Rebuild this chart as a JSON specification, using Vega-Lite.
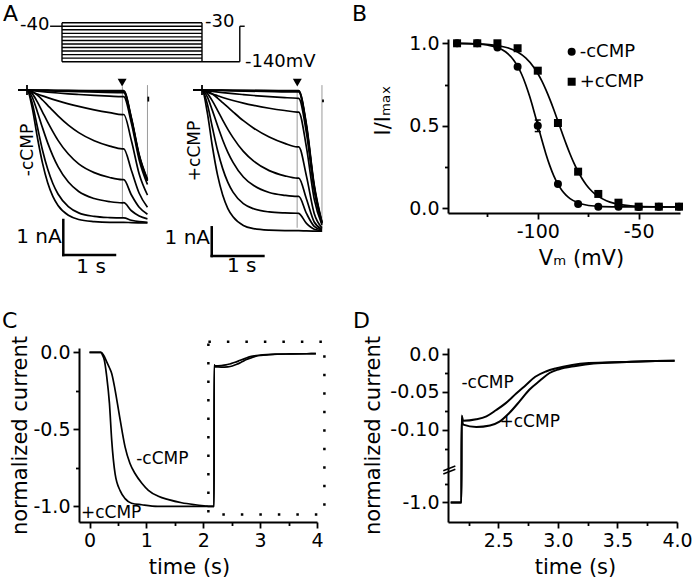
{
"$schema": "https://vega.github.io/schema/vega-lite/v6.json",
"padding": {"left": 2, "top": 2, "right": 0, "bottom": 0},
"background": "white",
"config": {
  "font": "DejaVu Sans",
  "view": {"stroke": null},
  "axis": {"domainColor": "black", "domainWidth": 2, "tickColor": "black", "tickWidth": 1.8, "labelColor": "black", "labelFontSize": 19, "labelFont": "DejaVu Sans", "titleFont": "DejaVu Sans", "titleFontSize": 21, "titleFontWeight": "normal", "titleColor": "black", "grid": false, "labelPadding": 3, "titlePadding": 6, "labelOverlap": false, "labelFlush": false},
  "text": {"font": "DejaVu Sans", "color": "black"}
},
"datasets": {
  "protoSeg": [
    {"t0": -0.17, "t1": 0, "v0": -40, "v1": -40},
    {"t0": 0, "t1": 2, "v0": -30, "v1": -30},
    {"t0": 0, "t1": 2, "v0": -40, "v1": -40},
    {"t0": 0, "t1": 2, "v0": -50, "v1": -50},
    {"t0": 0, "t1": 2, "v0": -60, "v1": -60},
    {"t0": 0, "t1": 2, "v0": -70, "v1": -70},
    {"t0": 0, "t1": 2, "v0": -80, "v1": -80},
    {"t0": 0, "t1": 2, "v0": -90, "v1": -90},
    {"t0": 0, "t1": 2, "v0": -100, "v1": -100},
    {"t0": 0, "t1": 2, "v0": -110, "v1": -110},
    {"t0": 0, "t1": 2, "v0": -120, "v1": -120},
    {"t0": 0, "t1": 2, "v0": -130, "v1": -130},
    {"t0": 0, "t1": 2, "v0": -140, "v1": -140},
    {"t0": 0, "t1": 0, "v0": -30, "v1": -140},
    {"t0": 2, "t1": 2, "v0": -30, "v1": -140},
    {"t0": 2, "t1": 2.54, "v0": -140, "v1": -140},
    {"t0": 2.54, "t1": 2.54, "v0": -140, "v1": -40},
    {"t0": 2.54, "t1": 2.61, "v0": -40, "v1": -40}
  ],
  "protoTxt": [
    {"t": -0.6, "v": -36.5, "label": "-40"},
    {"t": 2.043, "v": -29.4, "label": "-30"},
    {"t": 2.614, "v": -140, "label": "-140mV"}
  ],
  "letA": [{"t": -0.843, "v": -23.8, "label": "A"}],
  "letB": [{"V": -192.1, "r": 1.138, "label": "B"}],
  "letC": [{"t": -1.538, "v": 0.155, "label": "C"}],
  "letD": [{"t": 1.28, "v": 0.0336, "label": "D"}],
  "tl": [
    {"k":"L1","t":-0.17,"I":0},{"k":"L1","t":0,"I":0},{"k":"L1","t":0.6,"I":-0.008},{"k":"L1","t":1.2,"I":-0.015},{"k":"L1","t":1.84,"I":-0.02},{"k":"L1","t":1.87,"I":-0.02},{"k":"L1","t":2.02,"I":-0.8},{"k":"L1","t":2.17,"I":-1.85},{"k":"L1","t":2.33,"I":-2.55},
    {"k":"L2","t":-0.17,"I":0},{"k":"L2","t":0,"I":0},{"k":"L2","t":0.6,"I":-0.015},{"k":"L2","t":1.2,"I":-0.03},{"k":"L2","t":1.84,"I":-0.04},{"k":"L2","t":1.87,"I":-0.04},{"k":"L2","t":2.02,"I":-0.82},{"k":"L2","t":2.17,"I":-1.87},{"k":"L2","t":2.33,"I":-2.57},
    {"k":"L3","t":-0.17,"I":0},{"k":"L3","t":0,"I":0},{"k":"L3","t":0.6,"I":-0.03},{"k":"L3","t":1.2,"I":-0.055},{"k":"L3","t":1.84,"I":-0.075},{"k":"L3","t":1.87,"I":-0.075},{"k":"L3","t":2.02,"I":-0.85},{"k":"L3","t":2.17,"I":-1.9},{"k":"L3","t":2.33,"I":-2.6},
    {"k":"L4","t":-0.17,"I":0},{"k":"L4","t":0,"I":0},{"k":"L4","t":0.1,"I":-0.016},{"k":"L4","t":0.2,"I":-0.032},{"k":"L4","t":0.4,"I":-0.06},{"k":"L4","t":0.6,"I":-0.085},{"k":"L4","t":0.8,"I":-0.108},{"k":"L4","t":1.0,"I":-0.128},{"k":"L4","t":1.3,"I":-0.154},{"k":"L4","t":1.6,"I":-0.177},{"k":"L4","t":1.84,"I":-0.192},{"k":"L4","t":1.87,"I":-0.19},{"k":"L4","t":2.02,"I":-0.95},{"k":"L4","t":2.17,"I":-2.0},{"k":"L4","t":2.33,"I":-2.7},
    {"k":"L5","t":-0.17,"I":0},{"k":"L5","t":0,"I":0},{"k":"L5","t":0.1,"I":-0.06},{"k":"L5","t":0.2,"I":-0.116},{"k":"L5","t":0.3,"I":-0.169},{"k":"L5","t":0.4,"I":-0.219},{"k":"L5","t":0.6,"I":-0.312},{"k":"L5","t":0.8,"I":-0.395},{"k":"L5","t":1.0,"I":-0.469},{"k":"L5","t":1.3,"I":-0.566},{"k":"L5","t":1.6,"I":-0.648},{"k":"L5","t":1.84,"I":-0.704},{"k":"L5","t":1.87,"I":-0.7},{"k":"L5","t":2.02,"I":-1.45},{"k":"L5","t":2.17,"I":-2.4},{"k":"L5","t":2.33,"I":-3.0},
    {"k":"L6","t":-0.17,"I":0},{"k":"L6","t":0,"I":0},{"k":"L6","t":0.1,"I":-0.044},{"k":"L6","t":0.2,"I":-0.149},{"k":"L6","t":0.3,"I":-0.286},{"k":"L6","t":0.4,"I":-0.438},{"k":"L6","t":0.5,"I":-0.591},{"k":"L6","t":0.6,"I":-0.739},{"k":"L6","t":0.8,"I":-1.003},{"k":"L6","t":1.0,"I":-1.217},{"k":"L6","t":1.3,"I":-1.45},{"k":"L6","t":1.6,"I":-1.602},{"k":"L6","t":1.84,"I":-1.68},{"k":"L6","t":1.87,"I":-1.68},{"k":"L6","t":2.02,"I":-2.3},{"k":"L6","t":2.17,"I":-2.95},{"k":"L6","t":2.33,"I":-3.35},
    {"k":"L7","t":-0.17,"I":0},{"k":"L7","t":0,"I":0},{"k":"L7","t":0.1,"I":-0.105},{"k":"L7","t":0.2,"I":-0.34},{"k":"L7","t":0.3,"I":-0.63},{"k":"L7","t":0.4,"I":-0.92},{"k":"L7","t":0.5,"I":-1.19},{"k":"L7","t":0.6,"I":-1.44},{"k":"L7","t":0.8,"I":-1.83},{"k":"L7","t":1.0,"I":-2.11},{"k":"L7","t":1.3,"I":-2.36},{"k":"L7","t":1.6,"I":-2.5},{"k":"L7","t":1.84,"I":-2.56},{"k":"L7","t":1.87,"I":-2.56},{"k":"L7","t":2.02,"I":-3.0},{"k":"L7","t":2.17,"I":-3.35},{"k":"L7","t":2.33,"I":-3.55},
    {"k":"L8","t":-0.17,"I":0},{"k":"L8","t":0,"I":0},{"k":"L8","t":0.1,"I":-0.2},{"k":"L8","t":0.2,"I":-0.62},{"k":"L8","t":0.3,"I":-1.08},{"k":"L8","t":0.4,"I":-1.51},{"k":"L8","t":0.5,"I":-1.88},{"k":"L8","t":0.6,"I":-2.19},{"k":"L8","t":0.8,"I":-2.63},{"k":"L8","t":1.0,"I":-2.9},{"k":"L8","t":1.3,"I":-3.1},{"k":"L8","t":1.6,"I":-3.19},{"k":"L8","t":1.84,"I":-3.225},{"k":"L8","t":1.87,"I":-3.22},{"k":"L8","t":2.02,"I":-3.45},{"k":"L8","t":2.17,"I":-3.6},{"k":"L8","t":2.33,"I":-3.68},
    {"k":"L9","t":-0.17,"I":0},{"k":"L9","t":0,"I":0},{"k":"L9","t":0.1,"I":-0.37},{"k":"L9","t":0.2,"I":-1.05},{"k":"L9","t":0.3,"I":-1.72},{"k":"L9","t":0.4,"I":-2.26},{"k":"L9","t":0.5,"I":-2.67},{"k":"L9","t":0.6,"I":-2.97},{"k":"L9","t":0.8,"I":-3.33},{"k":"L9","t":1.0,"I":-3.51},{"k":"L9","t":1.3,"I":-3.61},{"k":"L9","t":1.6,"I":-3.645},{"k":"L9","t":1.84,"I":-3.655},{"k":"L9","t":1.87,"I":-3.655},{"k":"L9","t":2.02,"I":-3.72},{"k":"L9","t":2.17,"I":-3.76},{"k":"L9","t":2.33,"I":-3.78},
    {"k":"L10","t":-0.17,"I":0},{"k":"L10","t":0,"I":0},{"k":"L10","t":0.1,"I":-0.5},{"k":"L10","t":0.2,"I":-1.35},{"k":"L10","t":0.3,"I":-2.09},{"k":"L10","t":0.4,"I":-2.65},{"k":"L10","t":0.5,"I":-3.04},{"k":"L10","t":0.6,"I":-3.3},{"k":"L10","t":0.8,"I":-3.58},{"k":"L10","t":1.0,"I":-3.7},{"k":"L10","t":1.3,"I":-3.76},{"k":"L10","t":1.6,"I":-3.78},{"k":"L10","t":1.84,"I":-3.78},{"k":"L10","t":1.87,"I":-3.78},{"k":"L10","t":2.02,"I":-3.79},{"k":"L10","t":2.33,"I":-3.8}
  ],
  "tr": [
    {"k":"R1","t":-0.17,"I":0},{"k":"R1","t":0,"I":0},{"k":"R1","t":0.6,"I":-0.008},{"k":"R1","t":1.2,"I":-0.015},{"k":"R1","t":1.84,"I":-0.02},{"k":"R1","t":1.87,"I":-0.02},{"k":"R1","t":2.02,"I":-1.2},{"k":"R1","t":2.17,"I":-3.3},{"k":"R1","t":2.32,"I":-4.6},
    {"k":"R2","t":-0.17,"I":0},{"k":"R2","t":0,"I":0},{"k":"R2","t":0.6,"I":-0.015},{"k":"R2","t":1.2,"I":-0.03},{"k":"R2","t":1.84,"I":-0.04},{"k":"R2","t":1.87,"I":-0.04},{"k":"R2","t":2.02,"I":-1.25},{"k":"R2","t":2.17,"I":-3.35},{"k":"R2","t":2.32,"I":-4.62},
    {"k":"R3","t":-0.17,"I":0},{"k":"R3","t":0,"I":0},{"k":"R3","t":0.6,"I":-0.03},{"k":"R3","t":1.2,"I":-0.05},{"k":"R3","t":1.84,"I":-0.07},{"k":"R3","t":1.87,"I":-0.07},{"k":"R3","t":2.02,"I":-1.3},{"k":"R3","t":2.17,"I":-3.4},{"k":"R3","t":2.32,"I":-4.64},
    {"k":"R4","t":-0.17,"I":0},{"k":"R4","t":0,"I":0},{"k":"R4","t":0.1,"I":-0.024},{"k":"R4","t":0.2,"I":-0.047},{"k":"R4","t":0.4,"I":-0.09},{"k":"R4","t":0.6,"I":-0.128},{"k":"R4","t":0.8,"I":-0.161},{"k":"R4","t":1.0,"I":-0.192},{"k":"R4","t":1.3,"I":-0.231},{"k":"R4","t":1.6,"I":-0.265},{"k":"R4","t":1.84,"I":-0.288},{"k":"R4","t":1.87,"I":-0.29},{"k":"R4","t":2.02,"I":-1.5},{"k":"R4","t":2.17,"I":-3.5},{"k":"R4","t":2.32,"I":-4.65},
    {"k":"R5","t":-0.17,"I":0},{"k":"R5","t":0,"I":0},{"k":"R5","t":0.1,"I":-0.072},{"k":"R5","t":0.2,"I":-0.14},{"k":"R5","t":0.3,"I":-0.2},{"k":"R5","t":0.4,"I":-0.26},{"k":"R5","t":0.6,"I":-0.366},{"k":"R5","t":0.8,"I":-0.457},{"k":"R5","t":1.0,"I":-0.536},{"k":"R5","t":1.3,"I":-0.635},{"k":"R5","t":1.6,"I":-0.715},{"k":"R5","t":1.84,"I":-0.768},{"k":"R5","t":1.87,"I":-0.77},{"k":"R5","t":2.02,"I":-2.0},{"k":"R5","t":2.17,"I":-3.8},{"k":"R5","t":2.32,"I":-4.7},
    {"k":"R6","t":-0.17,"I":0},{"k":"R6","t":0,"I":0},{"k":"R6","t":0.1,"I":-0.04},{"k":"R6","t":0.2,"I":-0.14},{"k":"R6","t":0.3,"I":-0.28},{"k":"R6","t":0.4,"I":-0.44},{"k":"R6","t":0.5,"I":-0.6},{"k":"R6","t":0.6,"I":-0.76},{"k":"R6","t":0.8,"I":-1.07},{"k":"R6","t":1.0,"I":-1.33},{"k":"R6","t":1.3,"I":-1.64},{"k":"R6","t":1.6,"I":-1.86},{"k":"R6","t":1.84,"I":-1.98},{"k":"R6","t":1.87,"I":-1.98},{"k":"R6","t":2.02,"I":-3.0},{"k":"R6","t":2.17,"I":-4.3},{"k":"R6","t":2.32,"I":-4.8},
    {"k":"R7","t":-0.17,"I":0},{"k":"R7","t":0,"I":0},{"k":"R7","t":0.1,"I":-0.12},{"k":"R7","t":0.2,"I":-0.38},{"k":"R7","t":0.3,"I":-0.71},{"k":"R7","t":0.4,"I":-1.05},{"k":"R7","t":0.5,"I":-1.37},{"k":"R7","t":0.6,"I":-1.66},{"k":"R7","t":0.8,"I":-2.14},{"k":"R7","t":1.0,"I":-2.48},{"k":"R7","t":1.3,"I":-2.81},{"k":"R7","t":1.6,"I":-2.99},{"k":"R7","t":1.84,"I":-3.07},{"k":"R7","t":1.87,"I":-3.07},{"k":"R7","t":2.02,"I":-3.8},{"k":"R7","t":2.17,"I":-4.6},{"k":"R7","t":2.32,"I":-4.85},
    {"k":"R8","t":-0.17,"I":0},{"k":"R8","t":0,"I":0},{"k":"R8","t":0.1,"I":-0.23},{"k":"R8","t":0.2,"I":-0.71},{"k":"R8","t":0.3,"I":-1.24},{"k":"R8","t":0.4,"I":-1.74},{"k":"R8","t":0.5,"I":-2.17},{"k":"R8","t":0.6,"I":-2.52},{"k":"R8","t":0.8,"I":-3.03},{"k":"R8","t":1.0,"I":-3.33},{"k":"R8","t":1.3,"I":-3.57},{"k":"R8","t":1.6,"I":-3.67},{"k":"R8","t":1.84,"I":-3.71},{"k":"R8","t":1.87,"I":-3.71},{"k":"R8","t":2.02,"I":-4.3},{"k":"R8","t":2.17,"I":-4.75},{"k":"R8","t":2.32,"I":-4.88},
    {"k":"R9","t":-0.17,"I":0},{"k":"R9","t":0,"I":0},{"k":"R9","t":0.1,"I":-0.47},{"k":"R9","t":0.2,"I":-1.3},{"k":"R9","t":0.3,"I":-2.1},{"k":"R9","t":0.4,"I":-2.74},{"k":"R9","t":0.5,"I":-3.22},{"k":"R9","t":0.6,"I":-3.56},{"k":"R9","t":0.8,"I":-3.96},{"k":"R9","t":1.0,"I":-4.14},{"k":"R9","t":1.3,"I":-4.25},{"k":"R9","t":1.6,"I":-4.285},{"k":"R9","t":1.84,"I":-4.295},{"k":"R9","t":1.87,"I":-4.3},{"k":"R9","t":2.02,"I":-4.65},{"k":"R9","t":2.17,"I":-4.85},{"k":"R9","t":2.32,"I":-4.9},
    {"k":"R10","t":-0.17,"I":0},{"k":"R10","t":0,"I":0},{"k":"R10","t":0.1,"I":-0.76},{"k":"R10","t":0.2,"I":-1.96},{"k":"R10","t":0.3,"I":-2.96},{"k":"R10","t":0.4,"I":-3.66},{"k":"R10","t":0.5,"I":-4.13},{"k":"R10","t":0.6,"I":-4.42},{"k":"R10","t":0.8,"I":-4.72},{"k":"R10","t":1.0,"I":-4.83},{"k":"R10","t":1.3,"I":-4.885},{"k":"R10","t":1.6,"I":-4.9},{"k":"R10","t":1.84,"I":-4.9},{"k":"R10","t":1.87,"I":-4.9},{"k":"R10","t":2.02,"I":-4.91},{"k":"R10","t":2.32,"I":-4.92}
  ],
  "grayL": [{"t": 1.845, "I": 0.1, "I2": -3.63}, {"t": 2.33, "I": 0.14, "I2": -2.57}],
  "grayR": [{"t": 1.84, "I": 0.0, "I2": -4.8}, {"t": 2.32, "I": 0.17, "I2": -4.95}],
  "barsL": [{"t": 0.702, "t2": 1.702, "I": -4.714, "I2": -4.714}, {"t": 0.702, "t2": 0.702, "I": -4.714, "I2": -3.714}],
  "barsR": [{"t": 0.188, "t2": 1.188, "I": -5.784, "I2": -5.784}, {"t": 0.188, "t2": 0.188, "I": -5.784, "I2": -4.784}],
  "tickL": [{"t": 0, "t2": 0, "I": 0.14, "I2": -0.14}, {"t": 2.346, "t2": 2.346, "I": -0.19, "I2": -0.33}],
  "tickR": [{"t": 0, "t2": 0, "I": 0.17, "I2": -0.17}, {"t": 2.34, "t2": 2.34, "I": -0.33, "I2": -0.43}],
  "arrowL": [{"t": 1.84, "I": 0.214}],
  "arrowR": [{"t": 1.843, "I": 0.26}],
  "nAL": [{"t": 0.671, "I": -4.2, "label": "1 nA"}],
  "sL": [{"t": 1.24, "I": -5.06, "label": "1 s"}],
  "rotL": [{"t": 0.01, "I": -1.714, "label": "-cCMP"}],
  "nAR": [{"t": 0.155, "I": -5.14, "label": "1 nA"}],
  "sR": [{"t": 0.768, "I": -6.13, "label": "1 s"}],
  "rotR": [{"t": -0.135, "I": -2.125, "label": "+cCMP"}],
  "bp": [
    {"c":"-cCMP","V":-140,"r":1.0},{"c":"-cCMP","V":-130,"r":1.0},{"c":"-cCMP","V":-120,"r":0.975},{"c":"-cCMP","V":-110,"r":0.858},{"c":"-cCMP","V":-100,"r":0.5},{"c":"-cCMP","V":-90,"r":0.147},{"c":"-cCMP","V":-80,"r":0.026},{"c":"-cCMP","V":-70,"r":0.01},{"c":"-cCMP","V":-60,"r":0.01},{"c":"-cCMP","V":-50,"r":0.008},{"c":"-cCMP","V":-40,"r":0.01},{"c":"-cCMP","V":-30,"r":0.01},
    {"c":"+cCMP","V":-140,"r":1.0},{"c":"+cCMP","V":-130,"r":1.0},{"c":"+cCMP","V":-120,"r":1.0},{"c":"+cCMP","V":-110,"r":0.97},{"c":"+cCMP","V":-100,"r":0.834},{"c":"+cCMP","V":-90,"r":0.517},{"c":"+cCMP","V":-80,"r":0.222},{"c":"+cCMP","V":-70,"r":0.087},{"c":"+cCMP","V":-60,"r":0.034},{"c":"+cCMP","V":-50,"r":0.01},{"c":"+cCMP","V":-40,"r":0.01},{"c":"+cCMP","V":-30,"r":0.01}
  ],
  "bleg": [{"c": "-cCMP", "V": -83.2, "r": 0.949}, {"c": "+cCMP", "V": -83.2, "r": 0.767}],
  "bf": [
    {"c":"-cCMP","V":-140,"r":0.9993},{"c":"-cCMP","V":-130,"r":0.9957},{"c":"-cCMP","V":-125,"r":0.9895},{"c":"-cCMP","V":-120,"r":0.9745},{"c":"-cCMP","V":-116,"r":0.9487},{"c":"-cCMP","V":-112,"r":0.8994},{"c":"-cCMP","V":-110,"r":0.8615},{"c":"-cCMP","V":-108,"r":0.8122},{"c":"-cCMP","V":-106,"r":0.7506},{"c":"-cCMP","V":-104,"r":0.6768},{"c":"-cCMP","V":-102,"r":0.5932},{"c":"-cCMP","V":-100,"r":0.504},{"c":"-cCMP","V":-98,"r":0.415},{"c":"-cCMP","V":-96,"r":0.331},{"c":"-cCMP","V":-94,"r":0.257},{"c":"-cCMP","V":-92,"r":0.195},{"c":"-cCMP","V":-90,"r":0.146},{"c":"-cCMP","V":-88,"r":0.108},{"c":"-cCMP","V":-86,"r":0.08},{"c":"-cCMP","V":-84,"r":0.059},{"c":"-cCMP","V":-80,"r":0.034},{"c":"-cCMP","V":-76,"r":0.02},{"c":"-cCMP","V":-70,"r":0.012},{"c":"-cCMP","V":-60,"r":0.0087},{"c":"-cCMP","V":-50,"r":0.008},{"c":"-cCMP","V":-30,"r":0.008},
    {"c":"+cCMP","V":-140,"r":0.9991},{"c":"+cCMP","V":-130,"r":0.9965},{"c":"+cCMP","V":-120,"r":0.9862},{"c":"+cCMP","V":-115,"r":0.9728},{"c":"+cCMP","V":-110,"r":0.947},{"c":"+cCMP","V":-106,"r":0.9112},{"c":"+cCMP","V":-102,"r":0.855},{"c":"+cCMP","V":-100,"r":0.817},{"c":"+cCMP","V":-98,"r":0.772},{"c":"+cCMP","V":-96,"r":0.719},{"c":"+cCMP","V":-94,"r":0.66},{"c":"+cCMP","V":-92,"r":0.596},{"c":"+cCMP","V":-90,"r":0.528},{"c":"+cCMP","V":-88,"r":0.459},{"c":"+cCMP","V":-86,"r":0.392},{"c":"+cCMP","V":-84,"r":0.329},{"c":"+cCMP","V":-82,"r":0.272},{"c":"+cCMP","V":-80,"r":0.222},{"c":"+cCMP","V":-78,"r":0.179},{"c":"+cCMP","V":-76,"r":0.143},{"c":"+cCMP","V":-74,"r":0.114},{"c":"+cCMP","V":-72,"r":0.09},{"c":"+cCMP","V":-70,"r":0.072},{"c":"+cCMP","V":-66,"r":0.046},{"c":"+cCMP","V":-62,"r":0.03},{"c":"+cCMP","V":-58,"r":0.021},{"c":"+cCMP","V":-54,"r":0.015},{"c":"+cCMP","V":-50,"r":0.012},{"c":"+cCMP","V":-40,"r":0.009},{"c":"+cCMP","V":-30,"r":0.008}
  ],
  "be": [
    {"V": -100, "V2": -100, "r": 0.465, "r2": 0.535},
    {"V": -101.5, "V2": -98.5, "r": 0.465, "r2": 0.465},
    {"V": -101.5, "V2": -98.5, "r": 0.535, "r2": 0.535}
  ],
  "cc": [
    {"c":"-cCMP","t":0,"v":0},{"c":"-cCMP","t":0.2,"v":0},{"c":"-cCMP","t":0.25,"v":-0.02},{"c":"-cCMP","t":0.3,"v":-0.06},{"c":"-cCMP","t":0.35,"v":-0.1},{"c":"-cCMP","t":0.39,"v":-0.137},{"c":"-cCMP","t":0.45,"v":-0.245},{"c":"-cCMP","t":0.51,"v":-0.375},{"c":"-cCMP","t":0.57,"v":-0.506},{"c":"-cCMP","t":0.625,"v":-0.614},{"c":"-cCMP","t":0.71,"v":-0.72},{"c":"-cCMP","t":0.8,"v":-0.787},{"c":"-cCMP","t":0.92,"v":-0.85},{"c":"-cCMP","t":1.035,"v":-0.896},{"c":"-cCMP","t":1.21,"v":-0.935},{"c":"-cCMP","t":1.39,"v":-0.957},{"c":"-cCMP","t":1.62,"v":-0.977},{"c":"-cCMP","t":1.86,"v":-0.99},{"c":"-cCMP","t":2.05,"v":-0.998},{"c":"-cCMP","t":2.1,"v":-1.0},{"c":"-cCMP","t":2.15,"v":-1.0},{"c":"-cCMP","t":2.19,"v":-1.0},{"c":"-cCMP","t":2.192,"v":-0.081},{"c":"-cCMP","t":2.205,"v":-0.088},{"c":"-cCMP","t":2.315,"v":-0.086},{"c":"-cCMP","t":2.4,"v":-0.082},{"c":"-cCMP","t":2.48,"v":-0.074},{"c":"-cCMP","t":2.56,"v":-0.065},{"c":"-cCMP","t":2.65,"v":-0.052},{"c":"-cCMP","t":2.73,"v":-0.041},{"c":"-cCMP","t":2.81,"v":-0.03},{"c":"-cCMP","t":2.9,"v":-0.023},{"c":"-cCMP","t":2.98,"v":-0.019},{"c":"-cCMP","t":3.12,"v":-0.0144},{"c":"-cCMP","t":3.26,"v":-0.012},{"c":"-cCMP","t":3.54,"v":-0.0105},{"c":"-cCMP","t":3.82,"v":-0.0092},{"c":"-cCMP","t":3.98,"v":-0.009},
    {"c":"+cCMP","t":0,"v":0},{"c":"+cCMP","t":0.2,"v":0},{"c":"+cCMP","t":0.23,"v":-0.02},{"c":"+cCMP","t":0.26,"v":-0.05},{"c":"+cCMP","t":0.3,"v":-0.15},{"c":"+cCMP","t":0.35,"v":-0.33},{"c":"+cCMP","t":0.39,"v":-0.57},{"c":"+cCMP","t":0.45,"v":-0.79},{"c":"+cCMP","t":0.54,"v":-0.9},{"c":"+cCMP","t":0.625,"v":-0.95},{"c":"+cCMP","t":0.74,"v":-0.98},{"c":"+cCMP","t":0.92,"v":-0.99},{"c":"+cCMP","t":1.2,"v":-1.0},{"c":"+cCMP","t":1.8,"v":-1.0},{"c":"+cCMP","t":2.1,"v":-1.0},{"c":"+cCMP","t":2.19,"v":-1.0},{"c":"+cCMP","t":2.192,"v":-0.085},{"c":"+cCMP","t":2.205,"v":-0.093},{"c":"+cCMP","t":2.315,"v":-0.096},{"c":"+cCMP","t":2.43,"v":-0.094},{"c":"+cCMP","t":2.51,"v":-0.089},{"c":"+cCMP","t":2.59,"v":-0.078},{"c":"+cCMP","t":2.68,"v":-0.062},{"c":"+cCMP","t":2.76,"v":-0.047},{"c":"+cCMP","t":2.85,"v":-0.035},{"c":"+cCMP","t":2.93,"v":-0.025},{"c":"+cCMP","t":3.01,"v":-0.02},{"c":"+cCMP","t":3.15,"v":-0.0157},{"c":"+cCMP","t":3.3,"v":-0.0125},{"c":"+cCMP","t":3.54,"v":-0.0107},{"c":"+cCMP","t":3.82,"v":-0.0093},{"c":"+cCMP","t":3.98,"v":-0.009}
  ],
  "box": [{"t": 2.09, "t2": 4.13, "v": 0.069, "v2": -1.054}],
  "ctext": [{"t": 0.82, "v": -0.69, "label": "-cCMP"}, {"t": -0.15, "v": -1.042, "label": "+cCMP"}],
  "dtext": [{"t": 2.19, "v": -0.0388, "label": "-cCMP"}, {"t": 2.51, "v": -0.0895, "label": "+cCMP"}],
  "brk": [{"t": 2.038, "t2": 2.139, "v": -0.9155, "v2": -0.1474}, {"t": 2.038, "t2": 2.139, "v": -0.9243, "v2": -0.1517}]
},
"columns": 2,
"spacing": {"row": 135, "column": 131},
"bounds": "flush",
"align": "all",
"concat": [
  {
    "width": 238, "height": 174,
    "resolve": {"scale": {"x": "independent", "y": "independent"}},
    "layer": [
      {"layer": [
        {"data": {"name": "protoSeg"}, "mark": {"type": "rule", "color": "black", "strokeWidth": 1.4},
         "encoding": {"x": {"field": "t0", "type": "quantitative", "scale": {"domain": [0.2429, 3.643]}, "axis": null}, "x2": {"field": "t1"},
                      "y": {"field": "v0", "type": "quantitative", "scale": {"domain": [-566.8, -75.98]}, "axis": null}, "y2": {"field": "v1"}}},
        {"data": {"name": "protoTxt"}, "mark": {"type": "text", "align": "left", "baseline": "middle", "fontSize": 18},
         "encoding": {"x": {"field": "t", "type": "quantitative", "scale": {"domain": [0.2429, 3.643]}, "axis": null},
                      "y": {"field": "v", "type": "quantitative", "scale": {"domain": [-566.8, -75.98]}, "axis": null}, "text": {"field": "label"}}},
        {"data": {"name": "letA"}, "mark": {"type": "text", "align": "left", "baseline": "alphabetic", "fontSize": 22},
         "encoding": {"x": {"field": "t", "type": "quantitative", "scale": {"domain": [0.2429, 3.643]}, "axis": null},
                      "y": {"field": "v", "type": "quantitative", "scale": {"domain": [-566.8, -75.98]}, "axis": null}, "text": {"field": "label"}}}
      ]},
      {"layer": [
        {"data": {"name": "grayL"}, "mark": {"type": "rule", "color": "#9a9a9a", "strokeWidth": 1},
         "encoding": {"x": {"field": "t", "type": "quantitative", "scale": {"domain": [1.0058, 5.6093]}, "axis": null},
                      "y": {"field": "I", "type": "quantitative", "scale": {"domain": [-3.514, 1.457]}, "axis": null}, "y2": {"field": "I2"}}},
        {"data": {"name": "tl"}, "mark": {"type": "line", "color": "black", "strokeWidth": 1.7, "interpolate": "monotone"},
         "encoding": {"x": {"field": "t", "type": "quantitative", "scale": {"domain": [1.0058, 5.6093]}, "axis": null},
                      "y": {"field": "I", "type": "quantitative", "scale": {"domain": [-3.514, 1.457]}, "axis": null}, "detail": {"field": "k"}}},
        {"data": {"name": "barsL"}, "mark": {"type": "rule", "color": "black", "strokeWidth": 2.5, "strokeCap": "square"},
         "encoding": {"x": {"field": "t", "type": "quantitative", "scale": {"domain": [1.0058, 5.6093]}, "axis": null}, "x2": {"field": "t2"},
                      "y": {"field": "I", "type": "quantitative", "scale": {"domain": [-3.514, 1.457]}, "axis": null}, "y2": {"field": "I2"}}},
        {"data": {"name": "tickL"}, "mark": {"type": "rule", "color": "black", "strokeWidth": 1.8},
         "encoding": {"x": {"field": "t", "type": "quantitative", "scale": {"domain": [1.0058, 5.6093]}, "axis": null}, "x2": {"field": "t2"},
                      "y": {"field": "I", "type": "quantitative", "scale": {"domain": [-3.514, 1.457]}, "axis": null}, "y2": {"field": "I2"}}},
        {"data": {"name": "arrowL"}, "mark": {"type": "point", "shape": "triangle-down", "filled": true, "color": "black", "size": 80, "opacity": 1},
         "encoding": {"x": {"field": "t", "type": "quantitative", "scale": {"domain": [1.0058, 5.6093]}, "axis": null},
                      "y": {"field": "I", "type": "quantitative", "scale": {"domain": [-3.514, 1.457]}, "axis": null}}},
        {"data": {"name": "nAL"}, "mark": {"type": "text", "align": "right", "baseline": "middle", "fontSize": 20},
         "encoding": {"x": {"field": "t", "type": "quantitative", "scale": {"domain": [1.0058, 5.6093]}, "axis": null},
                      "y": {"field": "I", "type": "quantitative", "scale": {"domain": [-3.514, 1.457]}, "axis": null}, "text": {"field": "label"}}},
        {"data": {"name": "sL"}, "mark": {"type": "text", "align": "center", "baseline": "middle", "fontSize": 20},
         "encoding": {"x": {"field": "t", "type": "quantitative", "scale": {"domain": [1.0058, 5.6093]}, "axis": null},
                      "y": {"field": "I", "type": "quantitative", "scale": {"domain": [-3.514, 1.457]}, "axis": null}, "text": {"field": "label"}}},
        {"data": {"name": "rotL"}, "mark": {"type": "text", "align": "center", "baseline": "middle", "fontSize": 17, "angle": 270},
         "encoding": {"x": {"field": "t", "type": "quantitative", "scale": {"domain": [1.0058, 5.6093]}, "axis": null},
                      "y": {"field": "I", "type": "quantitative", "scale": {"domain": [-3.514, 1.457]}, "axis": null}, "text": {"field": "label"}}}
      ]},
      {"layer": [
        {"data": {"name": "grayR"}, "mark": {"type": "rule", "color": "#9a9a9a", "strokeWidth": 1},
         "encoding": {"x": {"field": "t", "type": "quantitative", "scale": {"domain": [-2.379, 2.224]}, "axis": null},
                      "y": {"field": "I", "type": "quantitative", "scale": {"domain": [-4.286, 1.777]}, "axis": null}, "y2": {"field": "I2"}}},
        {"data": {"name": "tr"}, "mark": {"type": "line", "color": "black", "strokeWidth": 1.7, "interpolate": "monotone"},
         "encoding": {"x": {"field": "t", "type": "quantitative", "scale": {"domain": [-2.379, 2.224]}, "axis": null},
                      "y": {"field": "I", "type": "quantitative", "scale": {"domain": [-4.286, 1.777]}, "axis": null}, "detail": {"field": "k"}}},
        {"data": {"name": "barsR"}, "mark": {"type": "rule", "color": "black", "strokeWidth": 2.5, "strokeCap": "square"},
         "encoding": {"x": {"field": "t", "type": "quantitative", "scale": {"domain": [-2.379, 2.224]}, "axis": null}, "x2": {"field": "t2"},
                      "y": {"field": "I", "type": "quantitative", "scale": {"domain": [-4.286, 1.777]}, "axis": null}, "y2": {"field": "I2"}}},
        {"data": {"name": "tickR"}, "mark": {"type": "rule", "color": "black", "strokeWidth": 1.8},
         "encoding": {"x": {"field": "t", "type": "quantitative", "scale": {"domain": [-2.379, 2.224]}, "axis": null}, "x2": {"field": "t2"},
                      "y": {"field": "I", "type": "quantitative", "scale": {"domain": [-4.286, 1.777]}, "axis": null}, "y2": {"field": "I2"}}},
        {"data": {"name": "arrowR"}, "mark": {"type": "point", "shape": "triangle-down", "filled": true, "color": "black", "size": 80, "opacity": 1},
         "encoding": {"x": {"field": "t", "type": "quantitative", "scale": {"domain": [-2.379, 2.224]}, "axis": null},
                      "y": {"field": "I", "type": "quantitative", "scale": {"domain": [-4.286, 1.777]}, "axis": null}}},
        {"data": {"name": "nAR"}, "mark": {"type": "text", "align": "right", "baseline": "middle", "fontSize": 20},
         "encoding": {"x": {"field": "t", "type": "quantitative", "scale": {"domain": [-2.379, 2.224]}, "axis": null},
                      "y": {"field": "I", "type": "quantitative", "scale": {"domain": [-4.286, 1.777]}, "axis": null}, "text": {"field": "label"}}},
        {"data": {"name": "sR"}, "mark": {"type": "text", "align": "center", "baseline": "middle", "fontSize": 20},
         "encoding": {"x": {"field": "t", "type": "quantitative", "scale": {"domain": [-2.379, 2.224]}, "axis": null},
                      "y": {"field": "I", "type": "quantitative", "scale": {"domain": [-4.286, 1.777]}, "axis": null}, "text": {"field": "label"}}},
        {"data": {"name": "rotR"}, "mark": {"type": "text", "align": "center", "baseline": "middle", "fontSize": 17, "angle": 270},
         "encoding": {"x": {"field": "t", "type": "quantitative", "scale": {"domain": [-2.379, 2.224]}, "axis": null},
                      "y": {"field": "I", "type": "quantitative", "scale": {"domain": [-4.286, 1.777]}, "axis": null}, "text": {"field": "label"}}}
      ]}
    ]
  },
  {
    "width": 232, "height": 174,
    "encoding": {
      "x": {"field": "V", "type": "quantitative", "scale": {"domain": [-144.5, -29.5]},
            "axis": {"title": "Vₘ (mV)", "titleX": 133, "values": [-125, -100, -75, -50], "labelExpr": "datum.value == -100 ? '-100' : datum.value == -50 ? '-50' : ''", "tickSize": {"condition": {"test": "datum.value == -100 || datum.value == -50", "value": 6}, "value": 3.5}}},
      "y": {"field": "r", "type": "quantitative", "scale": {"domain": [-0.0285, 1.026]},
            "axis": {"title": "I/Iₘₐₓ", "titleY": 71, "values": [0, 0.25, 0.5, 0.75, 1], "labelExpr": "datum.value == 0 ? '0.0' : datum.value == 0.5 ? '0.5' : datum.value == 1 ? '1.0' : ''", "tickSize": {"condition": {"test": "datum.value == 0 || datum.value == 0.5 || datum.value == 1", "value": 6}, "value": 3.5}, "titlePadding": 15}}
    },
    "layer": [
      {"data": {"name": "bf"}, "mark": {"type": "line", "color": "black", "strokeWidth": 1.7, "interpolate": "monotone"},
       "encoding": {"detail": {"field": "c"}}},
      {"data": {"name": "be"}, "mark": {"type": "rule", "color": "black", "strokeWidth": 1.5},
       "encoding": {"x2": {"field": "V2"}, "y2": {"field": "r2"}}},
      {"data": {"name": "bp"}, "mark": {"type": "point", "filled": true, "color": "black", "size": 64, "opacity": 1},
       "encoding": {"shape": {"field": "c", "type": "nominal", "scale": {"domain": ["-cCMP", "+cCMP"], "range": ["circle", "square"]}, "legend": null}}},
      {"data": {"name": "bleg"}, "mark": {"type": "point", "filled": true, "color": "black", "size": 64, "opacity": 1},
       "encoding": {"shape": {"field": "c", "type": "nominal", "scale": {"domain": ["-cCMP", "+cCMP"], "range": ["circle", "square"]}, "legend": null}}},
      {"data": {"name": "bleg"}, "mark": {"type": "text", "align": "left", "baseline": "middle", "fontSize": 18, "dx": 8},
       "encoding": {"text": {"field": "c"}}},
      {"data": {"name": "letB"}, "mark": {"type": "text", "align": "left", "baseline": "alphabetic", "fontSize": 22},
       "encoding": {"text": {"field": "label"}}}
    ]
  },
  {
    "width": 238, "height": 174,
    "encoding": {
      "x": {"field": "t", "type": "quantitative", "scale": {"domain": [-0.185, 4.0]},
            "axis": {"title": "time (s)", "titleX": 110, "values": [0, 0.5, 1, 1.5, 2, 2.5, 3, 3.5, 4], "labelExpr": "datum.value % 1 == 0 ? format(datum.value, 'd') : ''", "tickSize": {"condition": {"test": "datum.value % 1 == 0", "value": 6}, "value": 3.5}}},
      "y": {"field": "v", "type": "quantitative", "scale": {"domain": [-1.102, 0.028]},
            "axis": {"title": "normalized current", "values": [0, -0.25, -0.5, -0.75, -1], "labelExpr": "datum.value == 0 ? '0.0' : datum.value == -0.5 ? '-0.5' : datum.value == -1 ? '-1.0' : ''", "tickSize": {"condition": {"test": "datum.value == 0 || datum.value == -0.5 || datum.value == -1", "value": 6}, "value": 3.5}, "titlePadding": 2}}
    },
    "layer": [
      {"data": {"name": "cc"}, "mark": {"type": "line", "color": "black", "strokeWidth": 1.7, "interpolate": "monotone"},
       "encoding": {"detail": {"field": "c"}}},
      {"data": {"name": "box"}, "mark": {"type": "rect", "fillOpacity": 0, "stroke": "black", "strokeWidth": 2.5, "strokeDash": [2.5, 16]},
       "encoding": {"x2": {"field": "t2"}, "y2": {"field": "v2"}}},
      {"data": {"name": "ctext"}, "mark": {"type": "text", "align": "left", "baseline": "middle", "fontSize": 17},
       "encoding": {"text": {"field": "label"}}},
      {"data": {"name": "letC"}, "mark": {"type": "text", "align": "left", "baseline": "alphabetic", "fontSize": 22},
       "encoding": {"text": {"field": "label"}}}
    ]
  },
  {
    "width": 229, "height": 174,
    "encoding": {
      "x": {"field": "t", "type": "quantitative", "scale": {"domain": [2.0775, 4.0]},
            "axis": {"title": "time (s)", "titleX": 127, "values": [2.25, 2.5, 2.75, 3, 3.25, 3.5, 3.75, 4], "labelExpr": "datum.value % 0.5 == 0 ? format(datum.value, '.1f') : ''", "tickSize": {"condition": {"test": "datum.value % 0.5 == 0", "value": 6}, "value": 3.5}}},
      "y": {"field": "v", "type": "quantitative", "scale": {"domain": [-1.052, -0.915, -0.152, 0.0079], "range": [174, 122.5, 121.5, 0], "nice": false, "zero": false},
            "axis": {"title": "normalized current", "values": [0, -0.025, -0.05, -0.075, -0.1, -0.125, -0.95, -1], "labelExpr": "datum.value == 0 ? '0.0' : datum.value == -0.05 ? '-0.05' : datum.value == -0.1 ? '-0.10' : datum.value == -1 ? '-1.0' : ''", "tickSize": {"condition": {"test": "datum.value == 0 || datum.value == -0.05 || datum.value == -0.1 || datum.value == -1", "value": 6}, "value": 3.5}, "titlePadding": 6}}
    },
    "layer": [
      {"data": {"name": "cc"}, "transform": [{"filter": "datum.t >= 2.09"}], "mark": {"type": "line", "color": "black", "strokeWidth": 2, "interpolate": "monotone"},
       "encoding": {"detail": {"field": "c"}}},
      {"data": {"name": "brk"}, "mark": {"type": "rule", "color": "black", "strokeWidth": 1.5},
       "encoding": {"x2": {"field": "t2"}, "y2": {"field": "v2"}}},
      {"data": {"name": "dtext"}, "mark": {"type": "text", "align": "left", "baseline": "middle", "fontSize": 17},
       "encoding": {"text": {"field": "label"}}},
      {"data": {"name": "letD"}, "mark": {"type": "text", "align": "left", "baseline": "alphabetic", "fontSize": 22},
       "encoding": {"text": {"field": "label"}}}
    ]
  }
]
}
